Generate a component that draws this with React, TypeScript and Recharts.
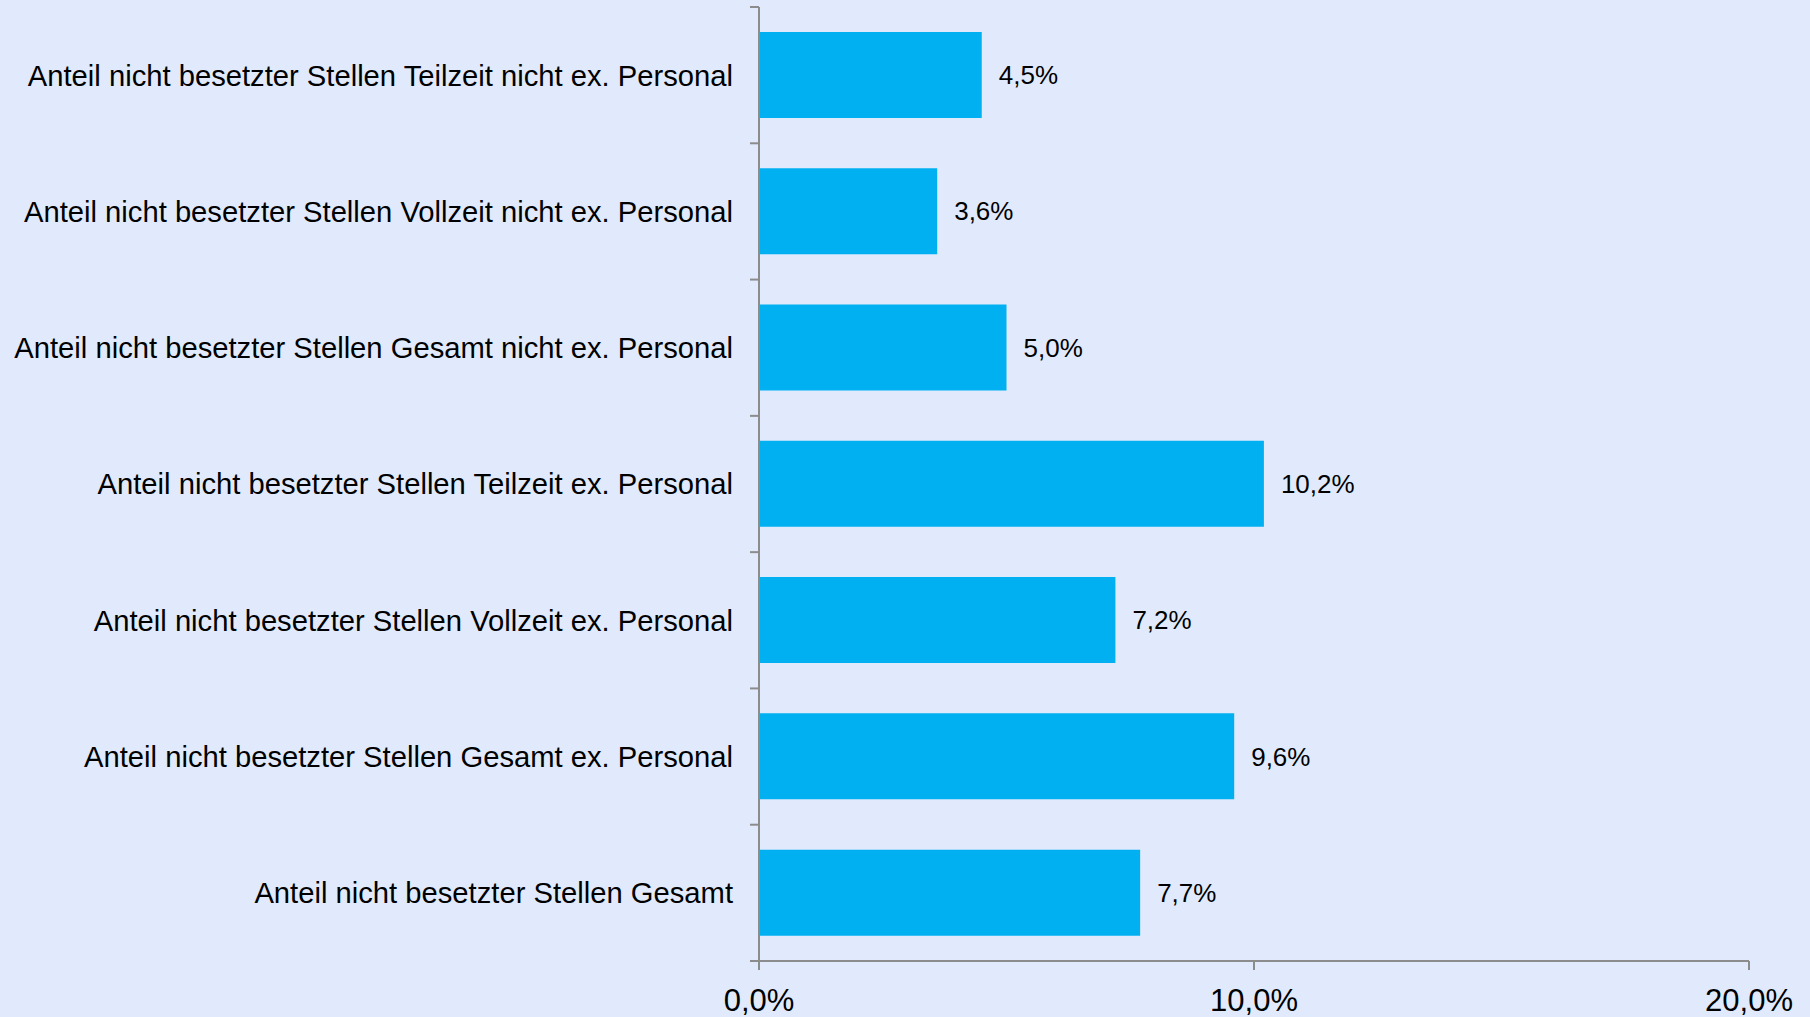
import React from "react";
import { BarChart, Bar, XAxis, YAxis, LabelList } from "recharts";

const categories = [
  "Anteil nicht besetzter Stellen Teilzeit nicht ex. Personal",
  "Anteil nicht besetzter Stellen Vollzeit nicht ex. Personal",
  "Anteil nicht besetzter Stellen Gesamt nicht ex. Personal",
  "Anteil nicht besetzter Stellen Teilzeit ex. Personal",
  "Anteil nicht besetzter Stellen Vollzeit ex. Personal",
  "Anteil nicht besetzter Stellen Gesamt ex. Personal",
  "Anteil nicht besetzter Stellen Gesamt",
];
const values = [4.5, 3.6, 5.0, 10.2, 7.2, 9.6, 7.7];
const xTicks = [0, 10, 20];

const data = categories.map((name, i) => ({ name, value: values[i] }));

const FONT = "'Liberation Sans', Arial, Helvetica, sans-serif";
const AXIS = "#8C8C8C";
const fmt = (v: number) => v.toFixed(1).replace(".", ",") + "%";

const TICK_MARGIN = 26;

const YTick = (props: any) => {
  const { x, y, payload, index, visibleTicksCount } = props;
  const half = payload && payload.offset != null ? payload.offset : 0;
  const axisX = x + TICK_MARGIN;
  const isLast = index === (visibleTicksCount ?? categories.length) - 1;
  return (
    <g>
      <line x1={axisX - 9} x2={axisX} y1={y - half} y2={y - half} stroke={AXIS} strokeWidth={2} />
      {isLast && (
        <line x1={axisX - 9} x2={axisX} y1={y + half} y2={y + half} stroke={AXIS} strokeWidth={2} />
      )}
      <text x={x} y={y} dy="0.355em" textAnchor="end" fontSize={29.2} fontFamily={FONT} fill="#000">
        {payload.value}
      </text>
    </g>
  );
};

export default function App() {
  return (
    <div
      style={{
        position: "absolute",
        left: 0,
        top: 0,
        width: 1810,
        height: 1017,
        background: "#E1EAFC",
      }}
    >
      <BarChart
        width={1810}
        height={1017}
        data={data}
        layout="vertical"
        margin={{ top: 7, right: 61, bottom: 0, left: 0 }}
        barCategoryGap="18.3%"
      >
        <XAxis
          type="number"
          domain={[0, 20]}
          ticks={xTicks}
          tickFormatter={fmt}
          height={56}
          axisLine={{ stroke: AXIS, strokeWidth: 2 }}
          tickLine={{ stroke: AXIS, strokeWidth: 2 }}
          tickSize={9}
          tickMargin={19}
          tick={{ fontSize: 31, fontFamily: FONT, fill: "#000" }}
          interval={0}
        />
        <YAxis
          type="category"
          dataKey="name"
          width={759}
          axisLine={{ stroke: AXIS, strokeWidth: 2 }}
          tickLine={false}
          tickSize={0}
          tickMargin={TICK_MARGIN}
          tick={<YTick />}
          interval={0}
        />
        <Bar dataKey="value" fill="#00B0F0" isAnimationActive={false}>
          <LabelList
            dataKey="value"
            position="right"
            offset={17}
            formatter={(v: any) => fmt(Number(v))}
            style={{ fontSize: 26, fontFamily: FONT, fill: "#000" }}
          />
        </Bar>
      </BarChart>
    </div>
  );
}
